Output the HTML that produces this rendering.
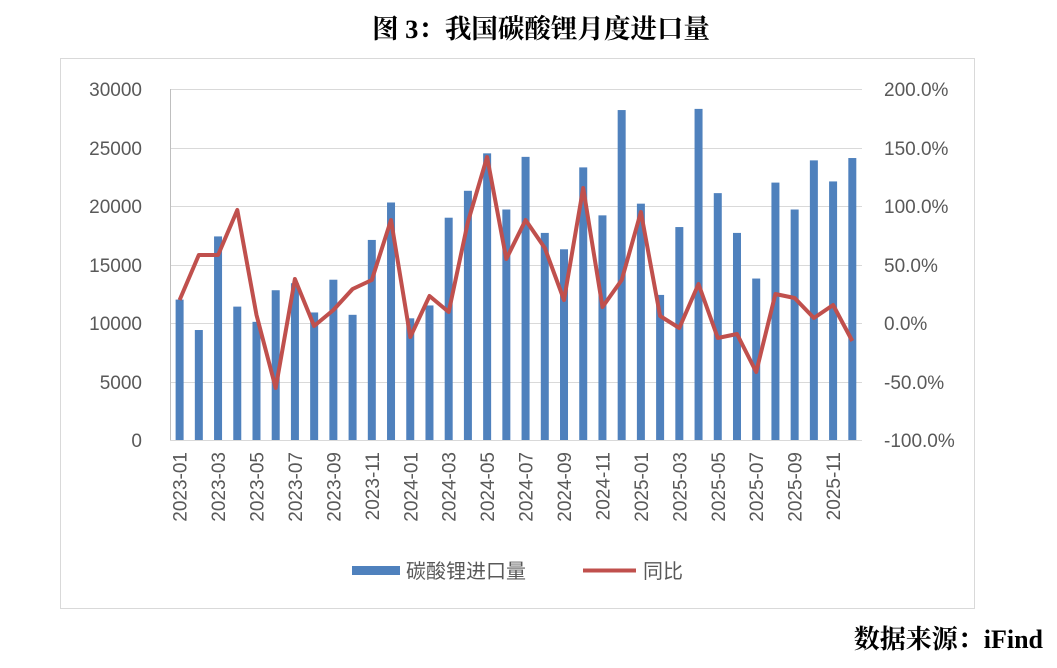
<!DOCTYPE html>
<html><head><meta charset="utf-8"><style>
body{margin:0;background:#fff;width:1057px;height:663px;overflow:hidden}
</style></head><body>
<svg width="1057" height="663" xmlns="http://www.w3.org/2000/svg" font-family="Liberation Sans, Noto Sans CJK SC, sans-serif">
<text x="541" y="38" text-anchor="middle" font-size="26.5" font-weight="bold" font-family="Liberation Serif, Noto Serif CJK SC, serif">图 3：我国碳酸锂月度进口量</text>
<rect x="60.5" y="58.5" width="914" height="550" fill="#fff" stroke="#d9d9d9"/>
<g stroke="#d9d9d9" stroke-width="1">
<line x1="170" x2="862" y1="89.5" y2="89.5"/><line x1="170" x2="862" y1="148.5" y2="148.5"/>
<line x1="170" x2="862" y1="206.5" y2="206.5"/><line x1="170" x2="862" y1="265.5" y2="265.5"/>
<line x1="170" x2="862" y1="323.5" y2="323.5"/><line x1="170" x2="862" y1="382.5" y2="382.5"/>
<line x1="170" x2="862" y1="440.5" y2="440.5"/>
</g>
<line x1="170.5" x2="170.5" y1="89" y2="440" stroke="#bfbfbf"/>
<g font-size="19" fill="#595959" text-anchor="end">
<text x="142" y="96">30000</text><text x="142" y="155">25000</text><text x="142" y="213">20000</text>
<text x="142" y="272">15000</text><text x="142" y="330">10000</text><text x="142" y="389">5000</text><text x="142" y="447">0</text>
</g>
<g font-size="19" fill="#595959">
<text x="884" y="96">200.0%</text><text x="884" y="155">150.0%</text><text x="884" y="213">100.0%</text>
<text x="884" y="272">50.0%</text><text x="884" y="330">0.0%</text><text x="884" y="389">-50.0%</text><text x="884" y="447">-100.0%</text>
</g>
<g id="bars" fill="#4f81bd"></g>
<polyline id="line" fill="none" stroke="#c0504d" stroke-width="4" stroke-linejoin="round" points=""/>
<g id="xl" font-size="19" fill="#595959"></g>
<rect x="352" y="566" width="48" height="9" fill="#4f81bd"/>
<text x="406" y="578" font-size="20" fill="#595959">碳酸锂进口量</text>
<line x1="583" x2="636" y1="570.5" y2="570.5" stroke="#c0504d" stroke-width="4"/>
<text x="643" y="578" font-size="20" fill="#595959">同比</text>
<text x="1043" y="648" text-anchor="end" font-size="26" font-weight="bold" font-family="Liberation Serif, Noto Serif CJK SC, serif">数据来源：iFind</text>
</svg>
<script>
var v=[12000,9400,17400,11400,10100,12800,13400,10900,13700,10700,17100,20300,10400,11500,19000,21300,24500,19700,24200,17700,16300,23300,19200,28200,20200,12400,18200,28300,21100,17700,13800,22000,19700,23900,22100,24100];
var ly=[300,255,255,210,315,388,279,326,310,289,280,220,337,296,312,222,157,259,220,248,300,188,307,280,212,316,328,284,338,334,372,294,298,318,305,341];
var ns="http://www.w3.org/2000/svg",b=document.getElementById('bars'),xl=document.getElementById('xl'),pts=[];
for(var i=0;i<36;i++){var c=170+19.22*(i+0.5),h=v[i]*0.0117;
var r=document.createElementNS(ns,'rect');r.setAttribute('x',c-4);r.setAttribute('y',440-h);r.setAttribute('width',8);r.setAttribute('height',h);b.appendChild(r);
pts.push(c.toFixed(1)+','+ly[i]);
if(i%2==0){var y=2023+Math.floor(i/12),m=i%12+1;var t=document.createElementNS(ns,'text');t.setAttribute('transform','translate('+(c+7)+',452) rotate(-90)');t.setAttribute('text-anchor','end');t.textContent=y+'-'+(m<10?'0':'')+m;xl.appendChild(t);}}
document.getElementById('line').setAttribute('points',pts.join(' '));
</script>
</body></html>
